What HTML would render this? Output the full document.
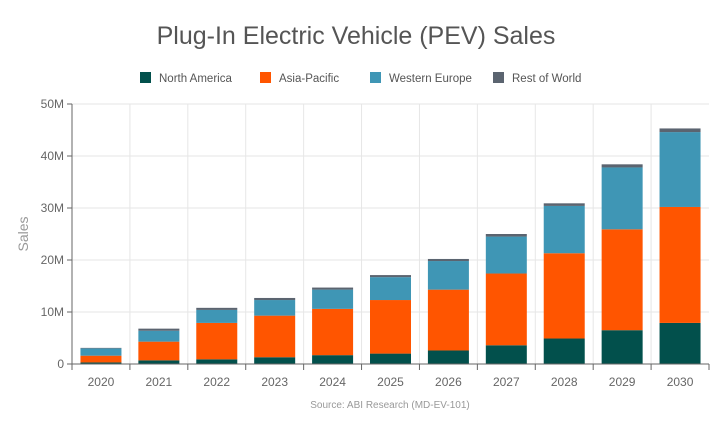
<!DOCTYPE html>
<html><head><meta charset="utf-8"><style>
body{margin:0;background:#fff;font-family:"Liberation Sans",sans-serif}
svg text{font-family:"Liberation Sans",sans-serif}
</style></head><body>
<svg id="c" width="720" height="440">
<text x="356" y="44" text-anchor="middle" font-size="25" fill="#555">Plug-In Electric Vehicle (PEV) Sales</text>
<text x="28" y="234" text-anchor="middle" font-size="14" fill="#999" transform="rotate(-90 28 234)">Sales</text>
<text x="390" y="408" text-anchor="middle" font-size="10" fill="#999">Source: ABI Research (MD-EV-101)</text>
<g id="legend"></g>
<g id="grid"></g><g id="bars"></g><g id="axes"></g>
</svg>
<script>
const categories=['2020','2021','2022','2023','2024','2025','2026','2027','2028','2029','2030'];
const northAmerica=[0.3,0.7,0.9,1.3,1.7,2.0,2.6,3.6,4.9,6.5,7.9];
const asiaPacific=[1.3,3.6,7.0,8.0,8.9,10.3,11.7,13.8,16.4,19.4,22.3];
const westernEurope=[1.4,2.1,2.5,3.0,3.7,4.4,5.5,7.1,9.1,11.9,14.4];
const restOfWorld=[0.1,0.4,0.4,0.4,0.4,0.4,0.4,0.5,0.5,0.6,0.7];
const yTicks=[0,10,20,30,40,50];
const yTickLabels=['0','10M','20M','30M','40M','50M'];
const seriesNames=['North America','Asia-Pacific','Western Europe','Rest of World'];
const colors=['#02504c','#ff5500','#3f96b5','#5b6470'];
const NS='http://www.w3.org/2000/svg';
const L=72,R=709,T=104,B=364,MAX=50;
const step=(R-L)/categories.length, bw=41;
function y(v){return B-(v/MAX)*(B-T);}
function xc(i){return L+step*(i+0.5);}
function mk(t,a,p){const e=document.createElementNS(NS,t);for(const k in a)e.setAttribute(k,a[k]);p.appendChild(e);return e;}
const grid=document.getElementById('grid'),bars=document.getElementById('bars'),axes=document.getElementById('axes'),leg=document.getElementById('legend');
yTicks.forEach((t,i)=>{
  if(t>0){const g=mk('line',{x1:L,x2:R,y1:y(t),y2:y(t),stroke:'#e6e6e6'},grid);
  
  }
  mk('line',{x1:L-5,x2:L,y1:y(t),y2:y(t),stroke:'#666'},axes);
  const tx=mk('text',{x:L-8,y:y(t)+4,'text-anchor':'end','font-size':12,fill:'#666'},axes);tx.textContent=yTickLabels[i];
  
  
});
for(let i=1;i<categories.length;i++){mk('line',{x1:L+step*i,x2:L+step*i,y1:T,y2:B,stroke:'#e6e6e6'},grid);}
for(let i=0;i<=categories.length;i++){mk('line',{x1:L+step*i,x2:L+step*i,y1:B,y2:B+6,stroke:'#666'},axes);}
mk('line',{x1:L,x2:L,y1:T,y2:B,stroke:'#666'},axes);
mk('line',{x1:L,x2:R,y1:B,y2:B,stroke:'#666'},axes);
const series=[northAmerica,asiaPacific,westernEurope,restOfWorld];
categories.forEach((c,i)=>{
  let acc=0;
  series.forEach((s,k)=>{
    const r=mk('rect',{x:xc(i)-bw/2,y:y(acc+s[i]),width:bw,height:y(acc)-y(acc+s[i]),fill:colors[k]},bars);
    
    
    acc+=s[i];
  });
  const t=mk('text',{x:xc(i),y:B+22,'text-anchor':'middle','font-size':12,fill:'#666'},axes);t.textContent=c;
  
  
});
const lx=[140,260,370,493];
seriesNames.forEach((n,k)=>{
  const r=mk('rect',{x:lx[k],y:72,width:11,height:11,fill:colors[k]},leg);
  
  
  const t=mk('text',{x:lx[k]+19,y:82,'font-size':11.5,fill:'#555'},leg);t.textContent=n;
  
  
});
</script>
</body></html>
